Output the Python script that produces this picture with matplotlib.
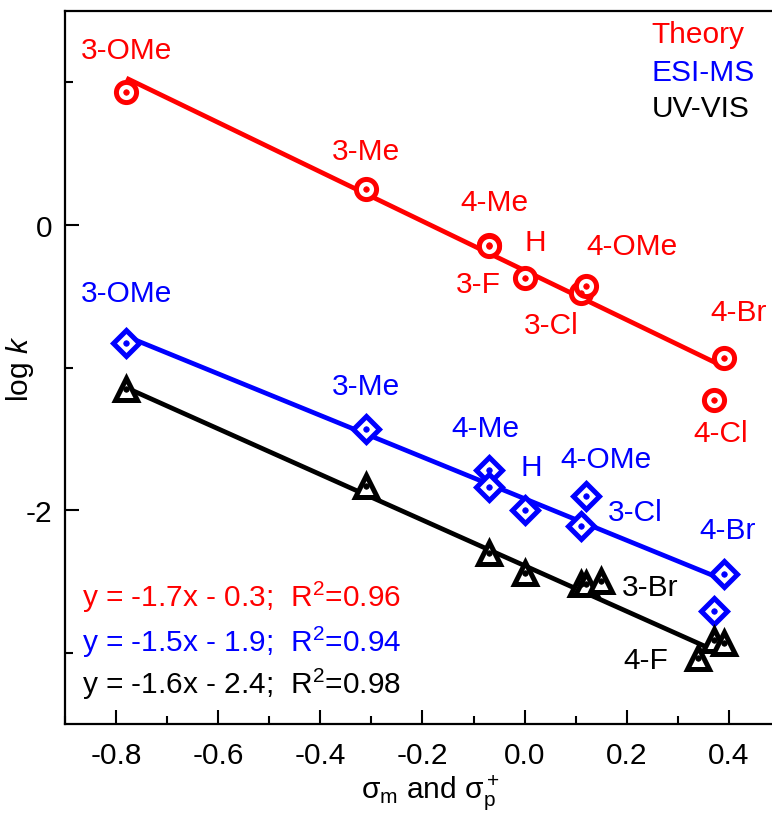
import matplotlib
matplotlib.use("Agg")
import matplotlib.pyplot as plt
import numpy as np

plt.rcParams['font.family'] = ['Liberation Sans', 'DejaVu Sans']
plt.rcParams['mathtext.fontset'] = 'custom'
plt.rcParams['mathtext.rm'] = 'Liberation Sans'
plt.rcParams['mathtext.it'] = 'Liberation Sans:italic'
plt.rcParams['mathtext.bf'] = 'Liberation Sans:bold'

# ---- data ----
theory_x = [-0.78, -0.31, -0.07, -0.07, 0.0, 0.11, 0.12, 0.37, 0.39]
theory_y = [0.93, 0.25, -0.14, -0.15, -0.37, -0.48, -0.43, -1.23, -0.93]
esi_x = [-0.78, -0.31, -0.07, -0.07, 0.0, 0.11, 0.12, 0.37, 0.39]
esi_y = [-0.83, -1.43, -1.72, -1.84, -2.0, -2.11, -1.90, -2.71, -2.45]
uv_x = [-0.78, -0.31, -0.07, 0.0, 0.11, 0.12, 0.15, 0.34, 0.37, 0.39]
uv_y = [-1.15, -1.83, -2.30, -2.44, -2.52, -2.52, -2.50, -3.04, -2.91, -2.93]

# fitted lines: slope, intercept
theory_fit = (-1.73, -0.32)
esi_fit = (-1.46, -1.92)
uv_fit = (-1.6, -2.39)
fit_range = [-0.78, 0.39]

theory_labels = ["3-OMe", "3-Me", "4-Me", "H", "3-F", "4-OMe", "3-Cl", "4-Br", "4-Cl"]
theory_label_pos = [(-0.78, 1.25), (-0.31, 0.54), (-0.06, 0.18), (0.02, -0.10), (-0.09, -0.39),
                    (0.21, -0.13), (0.053, -0.68), (0.418, -0.59), (0.383, -1.44)]
esi_labels = ["3-OMe", "3-Me", "4-Me", "H", "4-OMe", "3-Cl", "4-Br"]
esi_label_pos = [(-0.78, -0.46), (-0.31, -1.11), (-0.076, -1.40), (0.014, -1.68), (0.16, -1.62),
                 (0.217, -1.99), (0.398, -2.12)]
uv_labels = ["3-Br", "4-F"]
uv_label_pos = [(0.245, -2.52), (0.237, -3.03)]

legend_names = ["Theory", "ESI-MS", "UV-VIS"]
equations = ["y = -1.7x - 0.3;  R$^2$=0.96", "y = -1.5x - 1.9;  R$^2$=0.94", "y = -1.6x - 2.4;  R$^2$=0.98"]

RED, BLUE, BLACK = '#ff0000', '#0000ff', '#000000'

fig = plt.figure(figsize=(7.72, 8.2), dpi=100)
ax = fig.add_axes([65/772, 95/820, 715/772, 713/820])

FS = 21.5

def draw(xs, ys, fit, color, marker, ms):
    fx = np.array(fit_range)
    ax.plot(fx, fit[0]*fx + fit[1], color=color, lw=3.4, zorder=2, solid_capstyle='butt')
    ax.plot(xs, ys, linestyle='none', marker=marker, ms=ms, mec=color, mfc='white', mew=3.6, zorder=3)
    ax.plot(xs, ys, linestyle='none', marker='o', ms=4, mec=color, mfc=color, mew=0.5, zorder=4)

draw(theory_x, theory_y, theory_fit, RED, 'o', 14.5)
draw(esi_x, esi_y, esi_fit, BLUE, 'D', 13.5)
draw(uv_x, uv_y, uv_fit, BLACK, '^', 16.5)

for lab, (x, y) in zip(theory_labels, theory_label_pos):
    ax.text(x, y, lab, color=RED, fontsize=FS, ha='center', va='center_baseline')
for lab, (x, y) in zip(esi_labels, esi_label_pos):
    ax.text(x, y, lab, color=BLUE, fontsize=FS, ha='center', va='center_baseline')
for lab, (x, y) in zip(uv_labels, uv_label_pos):
    ax.text(x, y, lab, color=BLACK, fontsize=FS, ha='center', va='center_baseline')

for name, col, y in zip(legend_names, [RED, BLUE, BLACK], [1.36, 1.09, 0.84]):
    ax.text(0.249, y, name, color=col, fontsize=FS, ha='left', va='center_baseline')

for eq, col, y in zip(equations, [RED, BLUE, BLACK], [-2.67, -2.99, -3.28]):
    ax.text(-0.867, y, eq, color=col, fontsize=FS, ha='left', va='baseline')

ax.set_xlim(-0.9, 0.5)
ax.set_ylim(-3.5, 1.5)
ax.set_xticks([-0.8, -0.6, -0.4, -0.2, 0.0, 0.2, 0.4])
ax.set_xticklabels(['-0.8', '-0.6', '-0.4', '-0.2', '0.0', '0.2', '0.4'])
ax.set_xticks(np.arange(-0.9, 0.51, 0.1), minor=True)
ax.set_yticks([-2, 0])
ax.set_yticklabels(['-2', '0'])
ax.set_yticks([-3, -1, 1], minor=True)
ax.tick_params(which='both', direction='in', labelsize=FS, width=1.5)
ax.tick_params(which='major', length=10)
ax.tick_params(which='minor', length=6)
ax.tick_params(axis='x', pad=12)
ax.tick_params(axis='y', pad=9)
for s in ax.spines.values():
    s.set_linewidth(1.6)

ax.set_xlabel(r'$\mathregular{\sigma_m}$ and $\mathregular{\sigma_p^+}$', fontsize=FS)
ax.xaxis.set_label_coords((430 - 65) / 715, -(773 - 725) / 713)
ax.set_ylabel(r'log $\mathit{k}$', fontsize=FS)
ax.yaxis.set_label_coords(-(65 - 36) / 715, 0.5)

fig.savefig('out.png', dpi=100)
